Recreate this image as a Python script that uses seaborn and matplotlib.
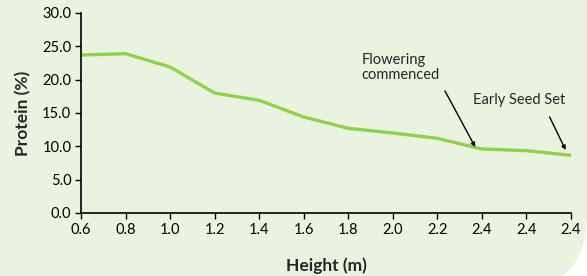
import numpy as np
import pandas as pd
import matplotlib
matplotlib.use("Agg")
import matplotlib.pyplot as plt
from matplotlib.path import Path
from matplotlib.patches import PathPatch
import seaborn as sns

# Chart data
height_labels = ["0.6", "0.8", "1.0", "1.2", "1.4", "1.6", "1.8", "2.0", "2.2", "2.4", "2.4", "2.4"]
protein_pct = [23.7, 23.9, 21.9, 18.0, 16.9, 14.4, 12.7, 12.0, 11.2, 9.6, 9.35, 8.65]
y_ticks = [0, 5, 10, 15, 20, 25, 30]

df = pd.DataFrame({"pos": range(len(height_labels)), "protein": protein_pct})

sns.set_style("ticks")
plt.rcParams["font.family"] = ["Lato", "DejaVu Sans"]

bg = "#eaf3df"
fig = plt.figure(figsize=(5.87, 2.76), dpi=100)
fig.patch.set_facecolor("white")

# green panel with rounded bottom-right corner (in figure pixels)
W, H = 587, 276
verts = [(0, 0), (0, H), (W, H), (W, 63), (W, 31), (577, 10), (562, 0), (0, 0)]
codes = [Path.MOVETO, Path.LINETO, Path.LINETO, Path.LINETO,
         Path.CURVE4, Path.CURVE4, Path.CURVE4, Path.CLOSEPOLY]
verts = [(x / W, y / H) for x, y in verts]
fig.patches.append(PathPatch(Path(verts, codes), transform=fig.transFigure,
                             facecolor=bg, edgecolor="none", zorder=-10))

ax = fig.add_axes([81 / W, 63 / H, 490 / W, 200 / H])
ax.set_facecolor("none")
ax.set_zorder(5)

sns.lineplot(data=df, x="pos", y="protein", ax=ax, color="#92d050", linewidth=2.4)

ax.set_xlim(0, len(height_labels) - 1)
ax.set_ylim(0, 30)
ax.set_xticks(range(len(height_labels)))
ax.set_xticklabels(height_labels)
ax.set_yticks(y_ticks)
ax.set_yticklabels([f"{v:.1f}" for v in y_ticks])
ax.tick_params(axis="both", labelsize=10.5, length=4, width=1, color="black",
               labelcolor="black", pad=3)
for s in ["top", "right"]:
    ax.spines[s].set_visible(False)
for s in ["left", "bottom"]:
    ax.spines[s].set_color("black")
    ax.spines[s].set_linewidth(1.2)

ax.set_xlabel("Height (m)", fontsize=12.5, fontweight="bold", labelpad=15)
ax.set_ylabel("Protein (%)", fontsize=12.5, fontweight="bold", labelpad=8)

ax.annotate("Flowering\ncommenced", xy=(8.85, 9.9), xytext=(6.3, 24.0),
            fontsize=10.5, va="top", ha="left", linespacing=1.05,
            arrowprops=dict(arrowstyle="-|>", color="black", lw=1,
                            mutation_scale=6, shrinkA=5, shrinkB=0,
                            relpos=(1.0, 0)))
ax.annotate("Early Seed Set", xy=(10.88, 9.45), xytext=(8.8, 16.9),
            fontsize=10.5, va="center", ha="left",
            arrowprops=dict(arrowstyle="-|>", color="black", lw=1,
                            mutation_scale=6, shrinkA=5, shrinkB=0,
                            relpos=(0.78, 0)))

fig.savefig("out.png", dpi=100, facecolor=fig.get_facecolor())
